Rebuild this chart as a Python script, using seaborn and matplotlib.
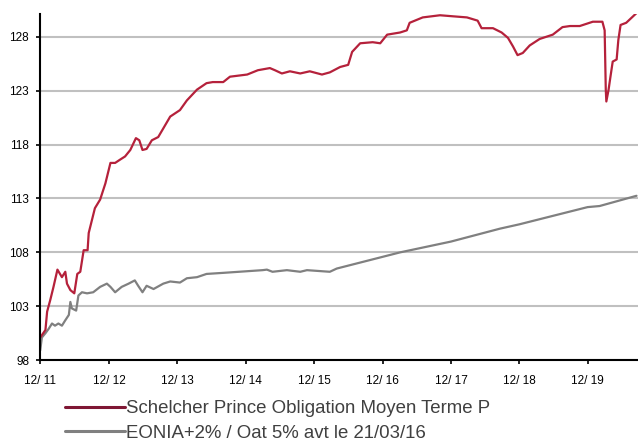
import pandas as pd
import matplotlib.pyplot as plt
import seaborn as sns
from matplotlib.lines import Line2D

sns.set_style('white')
plt.rcParams['font.family'] = ['Liberation Sans', 'DejaVu Sans']

# Schelcher Prince Obligation Moyen Terme P
fund_dates = ['2011-12-30', '2012-01-27', '2012-02-05', '2012-02-22', '2012-03-10', '2012-03-31',
              '2012-04-24', '2012-05-12', '2012-05-21', '2012-06-08', '2012-06-29', '2012-07-15',
              '2012-07-31', '2012-08-18', '2012-09-08', '2012-09-14', '2012-10-17', '2012-11-14',
              '2012-12-12', '2013-01-08', '2013-02-02', '2013-02-28', '2013-03-27', '2013-04-24',
              '2013-05-24', '2013-06-11', '2013-06-28', '2013-07-20', '2013-08-17', '2013-09-20',
              '2013-10-17', '2013-11-23', '2014-01-14', '2014-02-20', '2014-04-15', '2014-06-05',
              '2014-07-08', '2014-09-02', '2014-10-08', '2015-01-08', '2015-03-06', '2015-05-09',
              '2015-06-05', '2015-07-12', '2015-08-24', '2015-10-18', '2015-12-08', '2016-02-11',
              '2016-03-24', '2016-05-18', '2016-06-30', '2016-07-21', '2016-09-02', '2016-11-08',
              '2016-12-18', '2017-01-24', '2017-04-03', '2017-05-09', '2017-05-24', '2017-08-02',
              '2017-11-02', '2018-01-12', '2018-03-26', '2018-05-22', '2018-06-12', '2018-08-12',
              '2018-09-27', '2018-10-31', '2018-11-27', '2018-12-21', '2019-01-18', '2019-02-24',
              '2019-04-18', '2019-06-27', '2019-08-18', '2019-09-27', '2019-11-18', '2020-01-27',
              '2020-03-18', '2020-03-30', '2020-04-05', '2020-04-08', '2020-04-20', '2020-04-30',
              '2020-05-12', '2020-06-02', '2020-06-11', '2020-06-23', '2020-07-23', '2020-09-16']
fund_values = [100.1, 100.8, 102.5, 103.6, 104.8, 106.4,
               105.7, 106.2, 105.1, 104.5, 104.2, 106.0,
               106.2, 108.2, 108.2, 109.8, 112.1, 112.9,
               114.4, 116.3, 116.3, 116.6, 116.9, 117.5,
               118.6, 118.4, 117.5, 117.6, 118.4, 118.7,
               119.5, 120.6, 121.2, 122.1, 123.1, 123.7,
               123.8, 123.8, 124.3, 124.5, 124.9, 125.1,
               124.9, 124.6, 124.8, 124.6, 124.8, 124.5,
               124.7, 125.2, 125.4, 126.6, 127.4, 127.5,
               127.4, 128.2, 128.4, 128.6, 129.3, 129.8,
               130.0, 129.9, 129.8, 129.5, 128.8, 128.8,
               128.4, 127.9, 127.1, 126.3, 126.5, 127.2,
               127.8, 128.2, 128.9, 129.0, 129.0, 129.4,
               129.4, 128.6, 123.1, 122.0, 123.1, 124.3,
               125.7, 125.9, 127.7, 129.1, 129.3, 130.2]

# EONIA+2% / Oat 5% avt le 21/03/16
bench_dates = ['2011-12-30', '2012-01-08', '2012-01-27', '2012-02-13', '2012-03-02', '2012-03-18',
               '2012-04-05', '2012-04-24', '2012-05-12', '2012-05-31', '2012-06-08', '2012-06-16',
               '2012-07-09', '2012-07-21', '2012-08-09', '2012-09-05', '2012-10-08', '2012-11-14',
               '2012-12-20', '2013-01-08', '2013-02-02', '2013-03-09', '2013-04-15', '2013-05-18',
               '2013-06-05', '2013-06-28', '2013-07-20', '2013-08-26', '2013-10-17', '2013-11-23',
               '2014-01-14', '2014-02-20', '2014-04-15', '2014-06-05', '2014-09-02', '2015-03-31',
               '2015-04-23', '2015-05-23', '2015-08-08', '2015-10-18', '2015-11-23', '2016-03-24',
               '2016-04-30', '2017-04-03', '2017-12-30', '2018-09-18', '2018-12-30', '2019-12-30',
               '2020-03-03', '2020-09-16']
bench_values = [98.9, 100.1, 100.5, 100.9, 101.4, 101.2,
                101.4, 101.2, 101.7, 102.2, 103.4, 102.8,
                102.6, 104.0, 104.3, 104.2, 104.3, 104.8,
                105.1, 104.8, 104.3, 104.8, 105.1, 105.4,
                104.9, 104.3, 104.9, 104.6, 105.1, 105.3,
                105.2, 105.6, 105.7, 106.0, 106.1, 106.35,
                106.4, 106.2, 106.35, 106.2, 106.35, 106.2,
                106.5, 108.0, 109.0, 110.2, 110.6, 112.2,
                112.3, 113.25]

tick_dates = ['2011-12-31', '2012-12-31', '2013-12-31', '2014-12-31', '2015-12-31',
              '2016-12-31', '2017-12-31', '2018-12-31', '2019-12-31']
tick_labels = ['12/ 11', '12/ 12', '12/ 13', '12/ 14', '12/ 15',
               '12/ 16', '12/ 17', '12/ 18', '12/ 19']
y_ticks = [98, 103, 108, 113, 118, 123, 128]

fund = pd.DataFrame({'date': pd.to_datetime(fund_dates), 'value': fund_values})
bench = pd.DataFrame({'date': pd.to_datetime(bench_dates), 'value': bench_values})

fig = plt.figure(figsize=(6.38, 4.43), dpi=100)
ax = fig.add_axes([0.063, 0.187, 0.937, 0.781])

sns.lineplot(data=bench, x='date', y='value', color='#808080', linewidth=1.6, ax=ax)
sns.lineplot(data=fund, x='date', y='value', color='#b5213b', linewidth=1.6, ax=ax)

ax.set_ylim(98, 130.1)
ax.set_xlim(pd.Timestamp('2011-12-30'), pd.Timestamp('2020-09-24'))
ax.set_yticks(y_ticks)
ax.set_xticks(pd.to_datetime(tick_dates))
ax.set_xticklabels(tick_labels)
ax.set_xlabel('')
ax.set_ylabel('')

ax.yaxis.grid(True, color='#c0c0c0', linewidth=1.5)
ax.set_axisbelow(True)
for side in ['top', 'right']:
    ax.spines[side].set_visible(False)
for side in ['left', 'bottom']:
    ax.spines[side].set_color('black')
    ax.spines[side].set_linewidth(1.5)

ax.tick_params(axis='x', direction='out', length=3, width=1.2, pad=8, labelsize=8.5, colors='black')
ax.tick_params(axis='y', direction='out', length=3, width=1.2, pad=5, labelsize=8.5, colors='black')
ax.tick_params(bottom=True, left=True)

# legend below the plot, handles touching the text
handles = [Line2D([], [], color='#7f1734', linewidth=2.2),
           Line2D([], [], color='#808080', linewidth=2.2)]
labels = ['Schelcher Prince Obligation Moyen Terme P', 'EONIA+2% / Oat 5% avt le 21/03/16']
fig.legend(handles, labels, loc='upper left', bbox_to_anchor=(0.102, 0.097), frameon=False,
           fontsize=13.4, handlelength=3.2, handletextpad=0.05, labelspacing=0.42,
           borderpad=0, borderaxespad=0, labelcolor='#404040')

plt.savefig('out.png', dpi=100)
